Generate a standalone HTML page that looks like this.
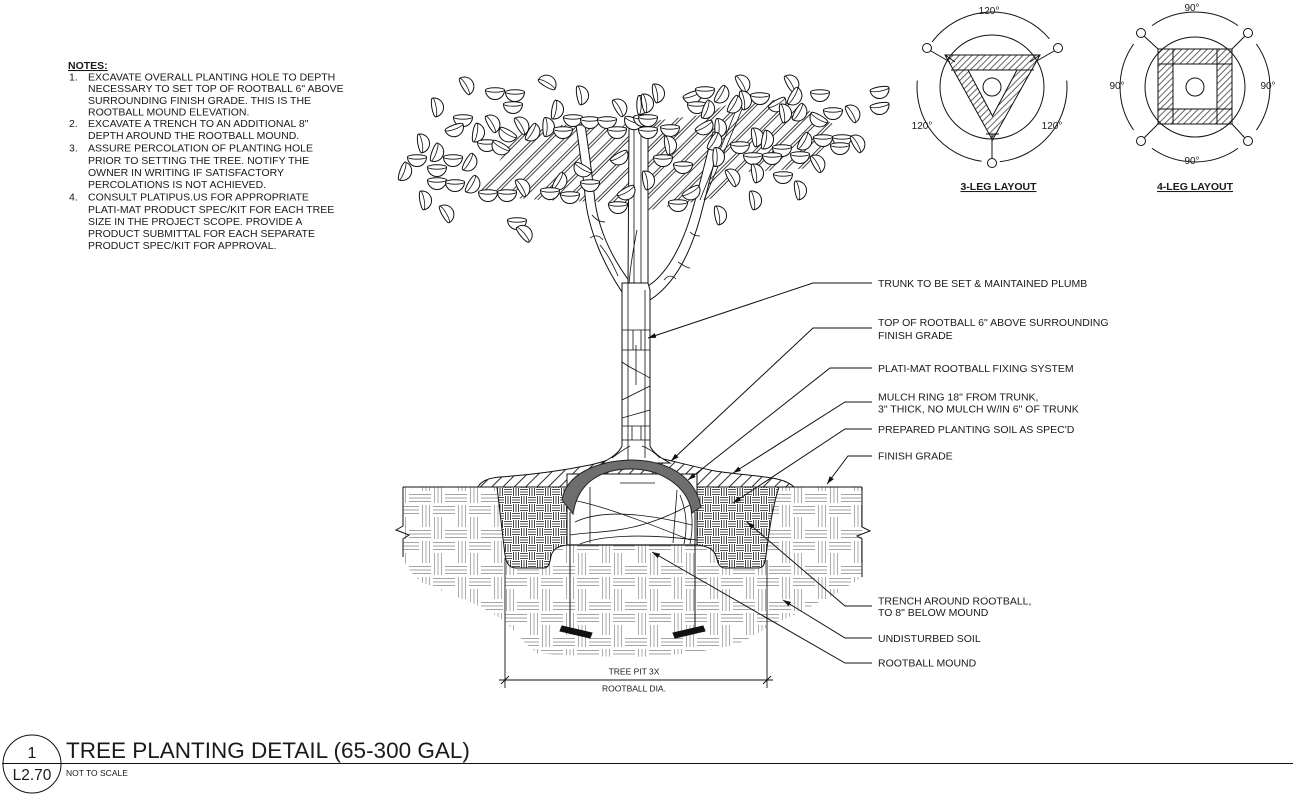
<!DOCTYPE html>
<html><head><meta charset="utf-8">
<style>
html,body{margin:0;padding:0;background:#fff;}
svg{display:block;}
text{font-family:"Liberation Sans",Arial,sans-serif;fill:#1a1a1a;}
</style></head><body>
<svg width="1296" height="804" viewBox="0 0 1296 804" xmlns="http://www.w3.org/2000/svg" xmlns:xlink="http://www.w3.org/1999/xlink">
<defs>
  <g id="lf">
    <path d="M-9.5,-3 A9.5,9.5 0 0 0 9.5,-3 A9.5,2.2 0 0 0 -9.5,-3 Z" fill="#fff" stroke="#111" stroke-width="1"/>
    <path d="M-9.5,-3 A9.5,2.2 0 0 0 9.5,-3" fill="none" stroke="#111" stroke-width="0.8"/>
  </g>
  <pattern id="ch" width="11" height="11" patternUnits="userSpaceOnUse" patternTransform="rotate(-45)">
    <line x1="0" y1="2" x2="11" y2="2" stroke="#111" stroke-width="0.8"/>
    <line x1="0" y1="4.6" x2="11" y2="4.6" stroke="#111" stroke-width="0.8"/>
  </pattern>
  <pattern id="mh" width="8" height="8" patternUnits="userSpaceOnUse" patternTransform="rotate(-45)">
    <line x1="0" y1="4" x2="8" y2="4" stroke="#111" stroke-width="0.9"/>
  </pattern>
  <pattern id="lh" width="4.5" height="4.5" patternUnits="userSpaceOnUse" patternTransform="rotate(-45)">
    <line x1="0" y1="2" x2="4.5" y2="2" stroke="#222" stroke-width="0.7"/>
  </pattern>
  <pattern id="us" width="36" height="36" patternUnits="userSpaceOnUse">
    <g stroke="#a3a3a3" stroke-width="0.9" fill="none">
      <path d="M1,2.5H23M1,6H23M1,9.5H23"/>
      <path d="M26.5,1V23M30,1V23M33.5,1V23"/>
      <path d="M13,26.5H35M13,30H35M13,33.5H35"/>
      <path d="M2.5,13V35M6,13V35M9.5,13V35"/>
    </g>
  </pattern>
  <pattern id="ps" width="16" height="16" patternUnits="userSpaceOnUse">
    <rect width="16" height="16" fill="#fff"/>
    <g stroke="#111" stroke-width="0.8" fill="none">
      <path d="M0,1.5H8M0,4H8M0,6.5H8"/>
      <path d="M9.5,0V8M12,0V8M14.5,0V8"/>
      <path d="M1.5,8V16M4,8V16M6.5,8V16"/>
      <path d="M8,9.5H16M8,12H16M8,14.5H16"/>
    </g>
  </pattern>
  <marker id="ah" markerWidth="8" markerHeight="6" refX="8" refY="3" orient="auto" markerUnits="userSpaceOnUse">
    <path d="M0,0.5 L8,3 L0,5.5 Z" fill="#111"/>
  </marker>
  <clipPath id="usclip">
    <path d="M403,487 L862,487 L862,577 C845,588 830,598 823,600 C800,612 785,620 773,623 C750,640 735,646 723,647 C690,655 650,657 623,657 C580,656 555,655 537,653 C520,640 510,625 503,620 C480,605 465,600 457,597 C440,590 430,585 423,583 C412,575 405,565 403,557 Z"/>
  </clipPath>
</defs>

<rect width="1296" height="804" fill="#fff"/>

<!-- NOTES -->
<g font-size="10.5">
  <text x="68" y="69" font-weight="bold" text-decoration="underline">NOTES:</text>
  <text x="69" y="80.5">1.</text><text x="88" y="80.5">EXCAVATE OVERALL PLANTING HOLE TO DEPTH</text>
  <text x="88" y="92">NECESSARY TO SET TOP OF ROOTBALL 6" ABOVE</text>
  <text x="88" y="104">SURROUNDING FINISH GRADE. THIS IS THE</text>
  <text x="88" y="115.5">ROOTBALL MOUND ELEVATION.</text>
  <text x="69" y="127">2.</text><text x="88" y="127">EXCAVATE A TRENCH TO AN ADDITIONAL 8"</text>
  <text x="88" y="139">DEPTH AROUND THE ROOTBALL MOUND.</text>
  <text x="69" y="151.5">3.</text><text x="88" y="151.5">ASSURE PERCOLATION OF PLANTING HOLE</text>
  <text x="88" y="164">PRIOR TO SETTING THE TREE. NOTIFY THE</text>
  <text x="88" y="176">OWNER IN WRITING IF SATISFACTORY</text>
  <text x="88" y="188">PERCOLATIONS IS NOT ACHIEVED.</text>
  <text x="69" y="200.5">4.</text><text x="88" y="200.5">CONSULT PLATIPUS.US FOR APPROPRIATE</text>
  <text x="88" y="213">PLATI-MAT PRODUCT SPEC/KIT FOR EACH TREE</text>
  <text x="88" y="225">SIZE IN THE PROJECT SCOPE. PROVIDE A</text>
  <text x="88" y="237">PRODUCT SUBMITTAL FOR EACH SEPARATE</text>
  <text x="88" y="249">PRODUCT SPEC/KIT FOR APPROVAL.</text>
</g>

<!-- 3-LEG LAYOUT -->
<g fill="none" stroke="#111" stroke-width="1">
  <path d="M932.1,41.9 A75,75 0 0 1 1049.4,38.8"/>
  <path d="M1066.7,80.5 A75,75 0 0 1 999.8,161.6"/>
  <path d="M981.6,161.3 A75,75 0 0 1 917.3,80.5"/>
  <circle cx="992" cy="87" r="52"/>
  <path d="M945,55 L1040,55 L992.5,140 Z M968,70 L1017,70 L992.5,116 Z" fill="url(#lh)" fill-rule="evenodd"/>
  <path d="M951,70 H1034 M955,62 L945,55 M1030,62 L1040,55 M986,134 L999,134"/>
  <circle cx="992" cy="87" r="9"/>
  <circle cx="927" cy="48" r="4.5"/><circle cx="1058" cy="48" r="4.5"/><circle cx="992" cy="163" r="4.5"/>
  <path d="M931,51 L950,62 M1054,51 L1035,62 M992,158.5 V134"/>
</g>
<g font-size="10" fill="#333">
  <text x="989" y="14" text-anchor="middle" fill="#333">120°</text>
  <text x="922" y="129" text-anchor="middle" fill="#333">120°</text>
  <text x="1052" y="129" text-anchor="middle" fill="#333">120°</text>
</g>
<text x="998.5" y="190" font-size="10.5" font-weight="bold" text-anchor="middle" text-decoration="underline">3-LEG LAYOUT</text>

<!-- 4-LEG LAYOUT -->
<g fill="none" stroke="#111" stroke-width="1">
  <path d="M1152,25.6 A75,75 0 0 1 1238,25.6"/>
  <path d="M1256.4,44 A75,75 0 0 1 1256.4,130"/>
  <path d="M1238,148.4 A75,75 0 0 1 1152,148.4"/>
  <path d="M1133.6,130 A75,75 0 0 1 1133.6,44"/>
  <circle cx="1195" cy="87" r="50"/>
  <path d="M1158,49 H1232 V124 H1158 Z M1173,64 V109 H1217 V64 Z" fill="url(#lh)" fill-rule="evenodd"/>
  <path d="M1173,49 V124 M1217,49 V124 M1158,64 H1232 M1158,109 H1232"/>
  <circle cx="1195" cy="87" r="9"/>
  <circle cx="1141" cy="33" r="4.5"/><circle cx="1248" cy="33" r="4.5"/>
  <circle cx="1141" cy="141" r="4.5"/><circle cx="1248" cy="141" r="4.5"/>
  <path d="M1144.5,36.5 L1158,49 M1244.5,36.5 L1232,49 M1144.5,137.5 L1158,124 M1244.5,137.5 L1232,124"/>
</g>
<g font-size="10">
  <text x="1192" y="11" text-anchor="middle" fill="#333">90°</text>
  <text x="1192" y="164" text-anchor="middle" fill="#333">90°</text>
  <text x="1117" y="89" text-anchor="middle" fill="#333">90°</text>
  <text x="1268" y="89" text-anchor="middle" fill="#333">90°</text>
</g>
<text x="1195" y="190" font-size="10.5" font-weight="bold" text-anchor="middle" text-decoration="underline">4-LEG LAYOUT</text>

<!-- CANOPY HATCH -->
<path d="M478,195 L500,160 L515,135 L560,125 L645,122 L700,115 L740,100 L790,100 L835,125 L815,168 L745,172 L715,198 L650,210 L600,202 L540,200 Z" fill="url(#ch)" stroke="none"/>

<!-- BRANCHES -->
<g fill="#fff" stroke="#111" stroke-width="1">
  <path d="M622,292 C606,268 588,232 585,195 C582,165 579,145 576,125 L585,125 C588,145 591,165 594,193 C597,228 612,258 630,282 Z"/>
  <path d="M650,300 C670,287 688,262 700,218 C708,188 715,158 722,132 L713,132 C706,158 699,188 691,215 C680,252 664,276 648,286 Z"/>
  <path d="M628,285 L629,128 L648,128 L648,290 Z"/>
</g>
<g fill="none" stroke="#111" stroke-width="0.8">
  <path d="M634,285 V130 M641,285 V132 M637,230 C633,250 630,270 629,285"/>
  <path d="M600,245 C606,252 612,262 618,276 M592,215 C596,220 600,222 605,222 M590,238 C596,234 600,236 603,240"/>
  <path d="M678,262 C684,266 688,268 690,268 M690,232 C694,236 697,236 700,236 M664,280 C668,275 672,275 676,279"/>
  <path d="M700,200 L740,100 M704,200 L745,102"/>
</g>

<!-- LEAVES -->
<g>
<use href="#lf" xlink:href="#lf" transform="translate(467,85) rotate(-120)"/>
<use href="#lf" xlink:href="#lf" transform="translate(495,93)"/>
<use href="#lf" xlink:href="#lf" transform="translate(515,95)"/>
<use href="#lf" xlink:href="#lf" transform="translate(513,107)"/>
<use href="#lf" xlink:href="#lf" transform="translate(548,82) rotate(-150)"/>
<use href="#lf" xlink:href="#lf" transform="translate(582,95) rotate(-100)"/>
<use href="#lf" xlink:href="#lf" transform="translate(437,107) rotate(-100)"/>
<use href="#lf" xlink:href="#lf" transform="translate(557,110) rotate(-80)"/>
<use href="#lf" xlink:href="#lf" transform="translate(620,107) rotate(-120)"/>
<use href="#lf" xlink:href="#lf" transform="translate(642,105) rotate(-90)"/>
<use href="#lf" xlink:href="#lf" transform="translate(463,120)"/>
<use href="#lf" xlink:href="#lf" transform="translate(455,130) rotate(-20)"/>
<use href="#lf" xlink:href="#lf" transform="translate(493,123) rotate(-120)"/>
<use href="#lf" xlink:href="#lf" transform="translate(478,133) rotate(-80)"/>
<use href="#lf" xlink:href="#lf" transform="translate(522,125) rotate(-120)"/>
<use href="#lf" xlink:href="#lf" transform="translate(507,135) rotate(30)"/>
<use href="#lf" xlink:href="#lf" transform="translate(533,133) rotate(-60)"/>
<use href="#lf" xlink:href="#lf" transform="translate(548,127) rotate(-90)"/>
<use href="#lf" xlink:href="#lf" transform="translate(563,132)"/>
<use href="#lf" xlink:href="#lf" transform="translate(573,120)"/>
<use href="#lf" xlink:href="#lf" transform="translate(590,122)"/>
<use href="#lf" xlink:href="#lf" transform="translate(607,122)"/>
<use href="#lf" xlink:href="#lf" transform="translate(617,132)"/>
<use href="#lf" xlink:href="#lf" transform="translate(633,123) rotate(20)"/>
<use href="#lf" xlink:href="#lf" transform="translate(643,120)"/>
<use href="#lf" xlink:href="#lf" transform="translate(423,143) rotate(-100)"/>
<use href="#lf" xlink:href="#lf" transform="translate(487,145)"/>
<use href="#lf" xlink:href="#lf" transform="translate(500,148) rotate(30)"/>
<use href="#lf" xlink:href="#lf" transform="translate(417,160)"/>
<use href="#lf" xlink:href="#lf" transform="translate(437,153) rotate(-70)"/>
<use href="#lf" xlink:href="#lf" transform="translate(453,160)"/>
<use href="#lf" xlink:href="#lf" transform="translate(470,163) rotate(-60)"/>
<use href="#lf" xlink:href="#lf" transform="translate(405,172) rotate(-70)"/>
<use href="#lf" xlink:href="#lf" transform="translate(437,170)"/>
<use href="#lf" xlink:href="#lf" transform="translate(437,183)"/>
<use href="#lf" xlink:href="#lf" transform="translate(455,185)"/>
<use href="#lf" xlink:href="#lf" transform="translate(473,185) rotate(-60)"/>
<use href="#lf" xlink:href="#lf" transform="translate(488,195)"/>
<use href="#lf" xlink:href="#lf" transform="translate(507,195)"/>
<use href="#lf" xlink:href="#lf" transform="translate(523,187) rotate(-120)"/>
<use href="#lf" xlink:href="#lf" transform="translate(560,182) rotate(-60)"/>
<use href="#lf" xlink:href="#lf" transform="translate(550,193)"/>
<use href="#lf" xlink:href="#lf" transform="translate(570,197)"/>
<use href="#lf" xlink:href="#lf" transform="translate(582,170) rotate(30)"/>
<use href="#lf" xlink:href="#lf" transform="translate(590,185)"/>
<use href="#lf" xlink:href="#lf" transform="translate(620,158) rotate(-30)"/>
<use href="#lf" xlink:href="#lf" transform="translate(627,193) rotate(-30)"/>
<use href="#lf" xlink:href="#lf" transform="translate(618,207)"/>
<use href="#lf" xlink:href="#lf" transform="translate(425,200) rotate(-100)"/>
<use href="#lf" xlink:href="#lf" transform="translate(447,213) rotate(-120)"/>
<use href="#lf" xlink:href="#lf" transform="translate(517,223)"/>
<use href="#lf" xlink:href="#lf" transform="translate(525,233) rotate(-130)"/>
<use href="#lf" xlink:href="#lf" transform="translate(658,93) rotate(-100)"/>
<use href="#lf" xlink:href="#lf" transform="translate(647,103) rotate(-100)"/>
<use href="#lf" xlink:href="#lf" transform="translate(693,97) rotate(-20)"/>
<use href="#lf" xlink:href="#lf" transform="translate(705,92)"/>
<use href="#lf" xlink:href="#lf" transform="translate(722,95) rotate(-60)"/>
<use href="#lf" xlink:href="#lf" transform="translate(743,83) rotate(-120)"/>
<use href="#lf" xlink:href="#lf" transform="translate(745,100) rotate(-100)"/>
<use href="#lf" xlink:href="#lf" transform="translate(760,98)"/>
<use href="#lf" xlink:href="#lf" transform="translate(792,83) rotate(-120)"/>
<use href="#lf" xlink:href="#lf" transform="translate(795,97) rotate(-60)"/>
<use href="#lf" xlink:href="#lf" transform="translate(820,95)"/>
<use href="#lf" xlink:href="#lf" transform="translate(880,92) rotate(-10)"/>
<use href="#lf" xlink:href="#lf" transform="translate(880,108) rotate(-10)"/>
<use href="#lf" xlink:href="#lf" transform="translate(697,107)"/>
<use href="#lf" xlink:href="#lf" transform="translate(708,110) rotate(-70)"/>
<use href="#lf" xlink:href="#lf" transform="translate(735,105) rotate(-60)"/>
<use href="#lf" xlink:href="#lf" transform="translate(778,105) rotate(-30)"/>
<use href="#lf" xlink:href="#lf" transform="translate(785,113) rotate(-100)"/>
<use href="#lf" xlink:href="#lf" transform="translate(800,113) rotate(-60)"/>
<use href="#lf" xlink:href="#lf" transform="translate(818,120) rotate(30)"/>
<use href="#lf" xlink:href="#lf" transform="translate(833,113)"/>
<use href="#lf" xlink:href="#lf" transform="translate(853,113) rotate(-120)"/>
<use href="#lf" xlink:href="#lf" transform="translate(648,120)"/>
<use href="#lf" xlink:href="#lf" transform="translate(705,128) rotate(-30)"/>
<use href="#lf" xlink:href="#lf" transform="translate(720,128) rotate(-90)"/>
<use href="#lf" xlink:href="#lf" transform="translate(648,132)"/>
<use href="#lf" xlink:href="#lf" transform="translate(670,130)"/>
<use href="#lf" xlink:href="#lf" transform="translate(715,142) rotate(-60)"/>
<use href="#lf" xlink:href="#lf" transform="translate(670,145) rotate(-100)"/>
<use href="#lf" xlink:href="#lf" transform="translate(757,137) rotate(-100)"/>
<use href="#lf" xlink:href="#lf" transform="translate(767,140) rotate(-80)"/>
<use href="#lf" xlink:href="#lf" transform="translate(805,142) rotate(-60)"/>
<use href="#lf" xlink:href="#lf" transform="translate(823,140)"/>
<use href="#lf" xlink:href="#lf" transform="translate(842,140)"/>
<use href="#lf" xlink:href="#lf" transform="translate(858,143) rotate(-120)"/>
<use href="#lf" xlink:href="#lf" transform="translate(740,147)"/>
<use href="#lf" xlink:href="#lf" transform="translate(782,150)"/>
<use href="#lf" xlink:href="#lf" transform="translate(800,157)"/>
<use href="#lf" xlink:href="#lf" transform="translate(840,148)"/>
<use href="#lf" xlink:href="#lf" transform="translate(718,157) rotate(-90)"/>
<use href="#lf" xlink:href="#lf" transform="translate(663,160)"/>
<use href="#lf" xlink:href="#lf" transform="translate(683,167)"/>
<use href="#lf" xlink:href="#lf" transform="translate(753,158)"/>
<use href="#lf" xlink:href="#lf" transform="translate(772,158)"/>
<use href="#lf" xlink:href="#lf" transform="translate(818,163) rotate(-120)"/>
<use href="#lf" xlink:href="#lf" transform="translate(733,177) rotate(-120)"/>
<use href="#lf" xlink:href="#lf" transform="translate(757,173) rotate(-100)"/>
<use href="#lf" xlink:href="#lf" transform="translate(783,177)"/>
<use href="#lf" xlink:href="#lf" transform="translate(648,180) rotate(-100)"/>
<use href="#lf" xlink:href="#lf" transform="translate(692,193) rotate(-30)"/>
<use href="#lf" xlink:href="#lf" transform="translate(678,205)"/>
<use href="#lf" xlink:href="#lf" transform="translate(800,190) rotate(-100)"/>
<use href="#lf" xlink:href="#lf" transform="translate(755,200) rotate(-100)"/>
<use href="#lf" xlink:href="#lf" transform="translate(720,215) rotate(-100)"/>
</g>

<!-- UNDISTURBED SOIL -->
<rect x="403" y="487" width="460" height="175" fill="url(#us)" clip-path="url(#usclip)"/>

<!-- TRENCHES (planting soil) -->
<g stroke="#111" stroke-width="1">
  <path d="M497,487 C499,505 502,530 505,555 C506,563 509,568 516,568 L544,568 C549,568 550,562 551,556 C553,549 558,546 567,545 L567,487 Z" fill="url(#ps)"/>
  <path d="M697,487 L697,545 C707,546 714,549 716,556 C718,563 719,568 725,568 L758,568 C764,568 765,563 766,556 C769,530 773,505 779,487 Z" fill="url(#ps)"/>
</g>

<!-- grade line & edges -->
<g fill="none" stroke="#111" stroke-width="1">
  <path d="M403,487 H862"/>
  <path d="M403,487 V526 L396,530 L409,535 L403,539 V557"/>
  <path d="M862,487 V527 L870,531 L857,536 L862,539 V577"/>
</g>

<!-- MULCH -->
<path d="M478,487 C481,481 488,478 500,477 C530,475 560,471 590,465 C604,462 612,458 622,456 L650,456 C666,459 690,466 715,471 C740,475 770,476 784,481 C789,483 792,485 794,487 Z" fill="url(#mh)" stroke="#111" stroke-width="1"/>

<!-- TRUNK -->
<path d="M622,283 L622,446 C619,453 611,458 602,463 L670,463 C661,458 653,453 650,446 L650,290 L648,283 Z" fill="#fff" stroke="#111" stroke-width="1"/>
<g fill="none" stroke="#111" stroke-width="0.8">
  <path d="M628,283 V460 M645,290 V458 M636,345 V385"/>
  <path d="M622,330 H650 M622,350 H650 M633,330 V350 M641,330 V350"/>
  <path d="M622,362 C630,368 640,372 650,378 M622,400 L650,386 M622,418 L650,410"/>
  <path d="M622,426 H650 M622,440 H650 M632,426 V440 M641,426 V440"/>
  <path d="M612,458 C620,452 626,448 630,446 M660,458 C654,452 648,448 642,446"/>
</g>

<!-- ROOTBALL -->
<rect x="567" y="474" width="130" height="71" fill="#fff" stroke="#111" stroke-width="1"/>
<g fill="none" stroke="#111" stroke-width="0.8">
  <path d="M590,487 V543 M677,490 L673,543 M620,483 H655"/>
  <path d="M572,500 C600,505 640,520 690,540"/>
  <path d="M575,522 C600,510 640,512 692,525"/>
  <path d="M570,535 C600,530 632,536 690,505"/>
  <path d="M580,544 C600,536 640,533 697,540"/>
  <path d="M680,495 C686,510 688,525 684,544 M686,490 C692,505 694,525 690,544"/>
</g>
<path d="M567,545 H697" stroke="#111" stroke-width="1.2"/>

<!-- PLATI-MAT -->
<path d="M562,500 C566,475 595,461 631,460 C667,460 695,476 701,507 L692,513 C688,487 662,469 631,469 C602,469 578,481 573,514 Z" fill="#6e6e6e" stroke="#222" stroke-width="1"/>

<!-- STAKES / ANCHORS -->
<g stroke="#111" stroke-width="1">
  <path d="M570,512 V633 M695,512 V633"/>
  <path d="M562,626 L592,633 L590,638 L560,631 Z" fill="#111"/>
  <path d="M703,626 L673,633 L675,638 L705,631 Z" fill="#111"/>
</g>

<!-- DIMENSION -->
<g stroke="#111" stroke-width="0.9" fill="none">
  <path d="M505,558 V688 M767,560 V688 M499,680 H773"/>
  <path d="M501,684 L509,676 M763,684 L771,676"/>
</g>
<text x="634" y="674.5" font-size="8.5" text-anchor="middle">TREE PIT 3X</text>
<text x="634" y="691.5" font-size="8.5" text-anchor="middle">ROOTBALL DIA.</text>

<!-- LEADERS -->
<g fill="none" stroke="#111" stroke-width="1" marker-end="url(#ah)">
  <path d="M872,283 L813,283 L648,338"/>
  <path d="M872,328 L813,328 L671,461"/>
  <path d="M872,368 L830,368 L688,480"/>
  <path d="M872,402 L845,402 L733,473"/>
  <path d="M872,429 L845,429 L733,503"/>
  <path d="M872,456 L848,456 L827,484"/>
  <path d="M872,606 L845,606 L747,522"/>
  <path d="M872,638 L845,638 L783,600"/>
  <path d="M872,663 L845,663 L652,552"/>
</g>
<g font-size="10.5">
  <text x="878" y="287">TRUNK TO BE SET &amp; MAINTAINED PLUMB</text>
  <text x="878" y="326">TOP OF ROOTBALL 6" ABOVE SURROUNDING</text>
  <text x="878" y="339">FINISH GRADE</text>
  <text x="878" y="372">PLATI-MAT ROOTBALL FIXING SYSTEM</text>
  <text x="878" y="400.5">MULCH RING 18" FROM TRUNK,</text>
  <text x="878" y="412.5">3" THICK, NO MULCH W/IN 6" OF TRUNK</text>
  <text x="878" y="433">PREPARED PLANTING SOIL AS SPEC'D</text>
  <text x="878" y="459.5">FINISH GRADE</text>
  <text x="878" y="604.5">TRENCH AROUND ROOTBALL,</text>
  <text x="878" y="616">TO 8" BELOW MOUND</text>
  <text x="878" y="642">UNDISTURBED SOIL</text>
  <text x="878" y="666.5">ROOTBALL MOUND</text>
</g>

<!-- TITLE BLOCK -->
<circle cx="32" cy="764" r="29" fill="none" stroke="#111" stroke-width="1"/>
<path d="M2,763.5 H1293" stroke="#111" stroke-width="1"/>
<text x="32" y="758" font-size="16" text-anchor="middle">1</text>
<text x="32" y="780" font-size="15.5" text-anchor="middle">L2.70</text>
<text x="66" y="758" font-size="22.5">TREE PLANTING DETAIL (65-300 GAL)</text>
<text x="66" y="776" font-size="8.5">NOT TO SCALE</text>
</svg>
</body></html>
